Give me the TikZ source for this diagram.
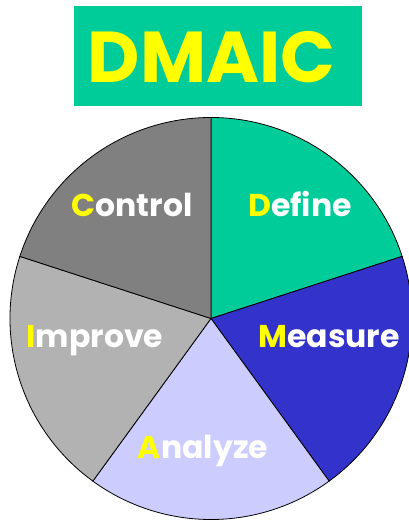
\documentclass[tikz,border=0pt]{standalone}
\usepackage{fontspec}
\setmainfont{Poppins}
\definecolor{dmaicteal}{RGB}{0,204,153}
\definecolor{dmaicblue}{RGB}{51,51,204}
\definecolor{dmaiclavender}{RGB}{204,204,255}
\definecolor{dmaiclightgray}{RGB}{178,178,178}
\definecolor{dmaicdarkgray}{RGB}{128,128,128}
\definecolor{dmaicyellow}{RGB}{255,255,0}
\newcommand{\firstletter}[1]{\textcolor{dmaicyellow}{#1}}
\tikzset{
  phase/.style={anchor=base, text=white, font=\fontsize{31.5}{31.5}\selectfont\bfseries},
  slice/.style={draw=black, line width=0.8pt}
}
\begin{document}
\begin{tikzpicture}
% Set the pie dimensions
\def\pieradius{201pt}
\useasboundingbox (-211pt,-203.5pt) rectangle (198pt,318.5pt);

% Draw the title
\fill[dmaicteal] (-137pt,212.5pt) rectangle (151pt,312.5pt);
\node[text=dmaicyellow, font=\fontsize{72}{72}\selectfont\bfseries] (title) at (0.5pt,261.5pt) {DMAIC};

% Draw the slices
\coordinate (centre) at (0,0);
\draw[slice, fill=dmaicteal] (centre) -- (90:\pieradius) arc[start angle=90, end angle=18, radius=\pieradius] -- cycle;
\draw[slice, fill=dmaicblue] (centre) -- (18:\pieradius) arc[start angle=18, end angle=-54, radius=\pieradius] -- cycle;
\draw[slice, fill=dmaiclavender] (centre) -- (-54:\pieradius) arc[start angle=-54, end angle=-126, radius=\pieradius] -- cycle;
\draw[slice, fill=dmaiclightgray] (centre) -- (-126:\pieradius) arc[start angle=-126, end angle=-198, radius=\pieradius] -- cycle;
\draw[slice, fill=dmaicdarkgray] (centre) -- (162:\pieradius) arc[start angle=162, end angle=90, radius=\pieradius] -- cycle;

% Insert the phase names
\node[phase] (define) at (89pt,101.5pt) {\firstletter{D}efine};
\node[phase] (measure) at (118pt,-28.5pt) {\firstletter{M}easure};
\node[phase] (analyze) at (-8pt,-139.5pt) {\firstletter{A}nalyze};
\node[phase] (improve) at (-116pt,-28.5pt) {\firstletter{I}mprove};
\node[phase] (control) at (-79pt,101.5pt) {\firstletter{C}ontrol};
\end{tikzpicture}
\end{document}
